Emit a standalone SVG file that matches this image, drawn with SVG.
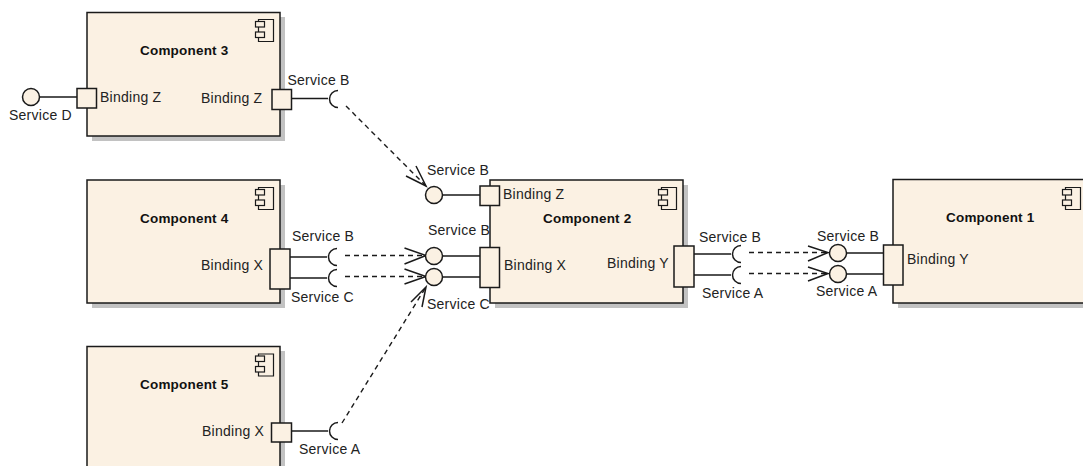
<svg xmlns="http://www.w3.org/2000/svg" width="1083" height="466" viewBox="0 0 1083 466">
<style>
.b{fill:#fbf1e3;stroke:#1a1a1a;stroke-width:1.5}
.s{fill:#c2c2c2}
.i{fill:#fbf1e3;stroke:#1a1a1a;stroke-width:1.2}
.l{fill:none;stroke:#1a1a1a;stroke-width:1.5}
.d{fill:none;stroke:#1a1a1a;stroke-width:1.4;stroke-dasharray:5 4}
text{font-family:"Liberation Sans",Arial,sans-serif;font-size:14px;letter-spacing:.25px;fill:#222}
.t{font-weight:bold;font-size:13.5px;letter-spacing:.2px;fill:#111}
</style>
<defs>
<g id="icon"><path class="i" d="M258.500 19.500H273.500V41.500H258.500Z"/><rect class="i" x="255.500" y="21.500" width="9" height="5.500"/><rect class="i" x="255.500" y="32" width="9" height="5.500"/></g>
</defs>
<g id="connectors">
<path class="l" d="M40 97H77M292 98.500H328M443 195H480"/>
<path class="l" d="M338 90.500A8.500 8.500 0 0 0 338 107.500"/>
<path class="d" d="M346 106L426 186"/>
<path class="l" d="M416 166L426 186L406 176"/>
<path class="l" d="M290 257H327M290 278H327M443 256H480M443 277H480"/>
<path class="l" d="M337 248.500A8.500 8.500 0 0 0 337 265.500M337 269.500A8.500 8.500 0 0 0 337 286.500"/>
<path class="d" d="M345 255.500H426M345 276.500H426"/>
<path class="l" d="M404.500 248L426 255.500L404.500 264M404.500 269L426 276.500L404.500 284"/>
<path class="l" d="M291 431H328"/>
<path class="l" d="M338 422.500A8.500 8.500 0 0 0 338 439.500"/>
<path class="d" d="M342 423L426 287"/>
<path class="l" d="M411 302L426 287L422 307"/>
<path class="l" d="M694 254H731M694 275H731M847 253H883M847 274H883"/>
<path class="l" d="M741 245.500A8.500 8.500 0 0 0 741 262.500M741 266.500A8.500 8.500 0 0 0 741 283.500"/>
<path class="d" d="M749 252.500H828M749 273.500H828"/>
<path class="l" d="M808 246L828 252.500L808 261M808 267L828 273.500L808 281"/>
</g>
<g id="component3">
<rect class="s" x="92" y="17" width="193" height="124"/>
<rect class="b" x="87" y="12.500" width="193" height="123.500"/>
<use href="#icon"/>
<text class="t" x="140" y="55">Component 3</text>
<rect class="b" x="77" y="88.500" width="19.500" height="19.500"/>
<rect class="b" x="272" y="89.500" width="19.500" height="20"/>
<text x="100" y="102">Binding Z</text>
<text x="201" y="103">Binding Z</text>
<circle class="b" cx="31" cy="97" r="8.500"/>
<text x="9" y="120">Service D</text>
<text x="287.500" y="85">Service B</text>
</g>
<g id="component4">
<rect class="s" x="92" y="185" width="193" height="123"/>
<rect class="b" x="87" y="180" width="193" height="123"/>
<use href="#icon" y="168"/>
<text class="t" x="140" y="223">Component 4</text>
<rect class="b" x="270" y="249" width="20" height="40"/>
<text x="201" y="270">Binding X</text>
<text x="292" y="241">Service B</text>
<text x="291" y="302">Service C</text>
</g>
<g id="component5">
<rect class="s" x="92" y="351" width="193" height="130"/>
<rect class="b" x="87" y="346.500" width="193" height="130"/>
<use href="#icon" y="334.500"/>
<text class="t" x="140" y="389">Component 5</text>
<rect class="b" x="271.500" y="423" width="20" height="19"/>
<text x="202" y="436">Binding X</text>
<text x="299" y="454">Service A</text>
</g>
<g id="component2">
<rect class="s" x="495" y="185" width="193" height="123"/>
<rect class="b" x="490" y="180" width="193" height="123"/>
<use href="#icon" x="403" y="168"/>
<text class="t" x="543" y="223">Component 2</text>
<rect class="b" x="480" y="186" width="19.500" height="19.500"/>
<rect class="b" x="480" y="247.500" width="19.500" height="40"/>
<rect class="b" x="674" y="246" width="20" height="41"/>
<text x="503" y="199">Binding Z</text>
<text x="504" y="270">Binding X</text>
<text x="607" y="268">Binding Y</text>
<circle class="b" cx="434" cy="195" r="8.500"/>
<circle class="b" cx="434" cy="256" r="8.500"/>
<circle class="b" cx="434" cy="277" r="8.500"/>
<text x="427" y="175">Service B</text>
<text x="428" y="235">Service B</text>
<text x="427" y="309">Service C</text>
<text x="699" y="242">Service B</text>
<text x="702" y="298">Service A</text>
</g>
<g id="component1">
<rect class="s" x="898" y="184" width="193" height="124"/>
<rect class="b" x="893" y="179.500" width="194" height="123.500"/>
<use href="#icon" x="807" y="168"/>
<text class="t" x="946" y="222">Component 1</text>
<rect class="b" x="883.500" y="245" width="19.500" height="40"/>
<text x="907" y="264">Binding Y</text>
<circle class="b" cx="838" cy="253" r="8.500"/>
<circle class="b" cx="838" cy="274" r="8.500"/>
<text x="817" y="241">Service B</text>
<text x="816" y="296">Service A</text>
</g>
</svg>
